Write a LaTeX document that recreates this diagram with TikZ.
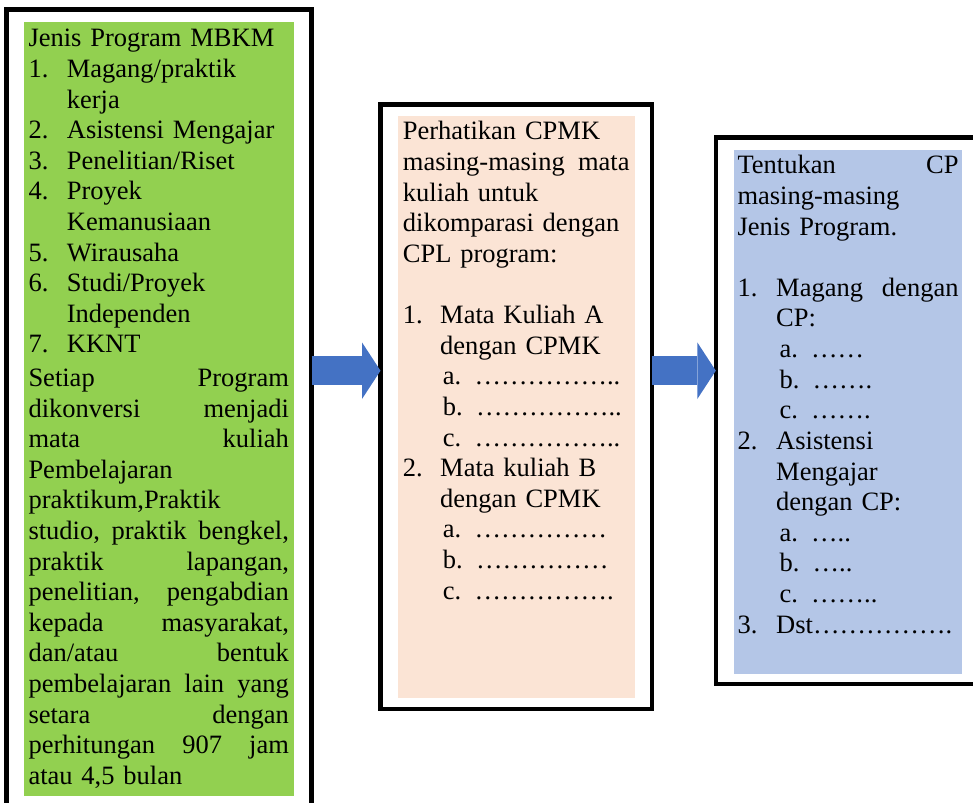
\documentclass[tikz,border=0pt]{standalone}
\usepackage{fontspec}
\setmainfont{Liberation Serif}
\usepackage{xcolor}
\usetikzlibrary{arrows.meta}
\definecolor{mbkmgreen}{HTML}{92D050}
\definecolor{cpmkpink}{HTML}{FBE4D5}
\definecolor{cpblue}{HTML}{B4C6E7}
\definecolor{arrowblue}{HTML}{4472C4}
\newcommand{\jl}[2]{\leavevmode\hbox to #1{#2}} % line spread to a given width
\newcommand{\itm}[2]{\makebox[#1][l]{#2}}       % list number in a fixed width
\tikzset{
  frame/.style={ % black outline round each step
    draw=black, line width=4.5pt, rectangle,
    inner sep=0pt, outer sep=0pt, anchor=north west
  },
  panel/.style={ % coloured background of a step
    rectangle, inner sep=0pt, outer sep=0pt, anchor=north west
  },
  steptext/.style={ % the text of a step, first baseline at the node
    anchor=base west, inner sep=0pt, align=left,
    font=\fontsize{26.5}{30.6}\selectfont
  },
  blockarrow/.style={
    draw=arrowblue, line width=28.5pt,
    -{Triangle[length=18.5pt,width=56.6pt,line width=0pt]}
  }
}
\begin{document}
\begin{tikzpicture}[x=1pt,y=-1pt]
  \useasboundingbox (0,0) rectangle (973,802);
  \clip (0,0) rectangle (973,802);

  \node[frame, minimum width=305.2pt, minimum height=805pt] (mbkm) at (6.5,9.5) {};
  \node[frame, minimum width=271.7pt, minimum height=604.5pt] (cpmk) at (380.5,104.5) {};
  \node[frame, minimum width=270pt, minimum height=546.3pt] (cp) at (715.8,137.5) {};

  \node[panel, fill=mbkmgreen, minimum width=270pt, minimum height=774.3pt] (mbkmfill) at (24,21.7) {};
  \node[panel, fill=cpmkpink, minimum width=236.7pt, minimum height=582.3pt] (cpmkfill) at (398.3,116) {};
  \node[panel, fill=cpblue, minimum width=227.7pt, minimum height=524.3pt] (cpfill) at (734,150) {};

  \node[steptext, text width=260.4pt] (mbkmtext) at (28.3,47) {%
    Jenis Program MBKM\\
    \itm{38.4pt}{1.}Magang/praktik\\
    \hspace*{38.4pt}kerja\\
    \itm{38.4pt}{2.}Asistensi Mengajar\\
    \itm{38.4pt}{3.}Penelitian/Riset\\
    \itm{38.4pt}{4.}Proyek\\
    \hspace*{38.4pt}Kemanusiaan\\
    \itm{38.4pt}{5.}Wirausaha\\
    \itm{38.4pt}{6.}Studi/Proyek\\
    \hspace*{38.4pt}Independen\\
    \itm{38.4pt}{7.}KKNT\\[3pt]
    \jl{260.4pt}{Setiap\hfill Program}\\
    \jl{260.4pt}{dikonversi\hfill menjadi}\\
    \jl{260.4pt}{mata\hfill kuliah}\\
    Pembelajaran\\
    praktikum,Praktik\\
    \jl{260.4pt}{studio,\hfill praktik\hfill bengkel,}\\
    \jl{260.4pt}{praktik\hfill lapangan,}\\
    \jl{260.4pt}{penelitian,\hfill pengabdian}\\
    \jl{260.4pt}{kepada\hfill masyarakat,}\\
    \jl{260.4pt}{dan/atau\hfill bentuk}\\
    \jl{260.4pt}{pembelajaran\hfill lain\hfill yang}\\
    \jl{260.4pt}{setara\hfill dengan}\\
    \jl{260.4pt}{perhitungan\hfill 907\hfill jam}\\
    atau 4,5 bulan};

  \node[steptext, text width=226.6pt] (cpmktext) at (402.7,140) {%
    Perhatikan CPMK\\
    \jl{226.6pt}{masing-masing\hfill mata}\\
    kuliah untuk\\
    dikomparasi dengan\\
    CPL program:\\[30.6pt]
    \itm{37.3pt}{1.}Mata Kuliah A\\
    \hspace*{37.3pt}dengan CPMK\\
    \hspace*{40pt}a. ……………..\\
    \hspace*{40pt}b. ……………..\\
    \hspace*{40pt}c. ……………..\\
    \itm{37.3pt}{2.}Mata kuliah B\\
    \hspace*{37.3pt}dengan CPMK\\
    \hspace*{40pt}a. ……………\\
    \hspace*{40pt}b. ……………\\
    \hspace*{40pt}c. …………….};

  \node[steptext, text width=221pt] (cptext) at (737.3,174) {%
    \jl{221pt}{Tentukan\hfill CP}\\
    masing-masing\\
    Jenis Program.\\[30.6pt]
    \itm{38.7pt}{1.}\jl{182.3pt}{Magang\hfill dengan}\\
    \hspace*{38.7pt}CP:\\
    \hspace*{42pt}a. ……\\
    \hspace*{42pt}b. …….\\
    \hspace*{42pt}c. …….\\
    \itm{38.7pt}{2.}Asistensi\\
    \hspace*{38.7pt}Mengajar\\
    \hspace*{38.7pt}dengan CP:\\
    \hspace*{42pt}a. …..\\
    \hspace*{42pt}b. …..\\
    \hspace*{42pt}c. ……..\\
    \itm{38.7pt}{3.}Dst…………….};

  \coordinate (arrowrow) at (0,370.7);
  \draw[blockarrow] (mbkm.east |- arrowrow) -- (cpmk.west |- arrowrow);
  \draw[blockarrow] (cpmk.east |- arrowrow) -- (cp.west |- arrowrow);
\end{tikzpicture}
\end{document}
